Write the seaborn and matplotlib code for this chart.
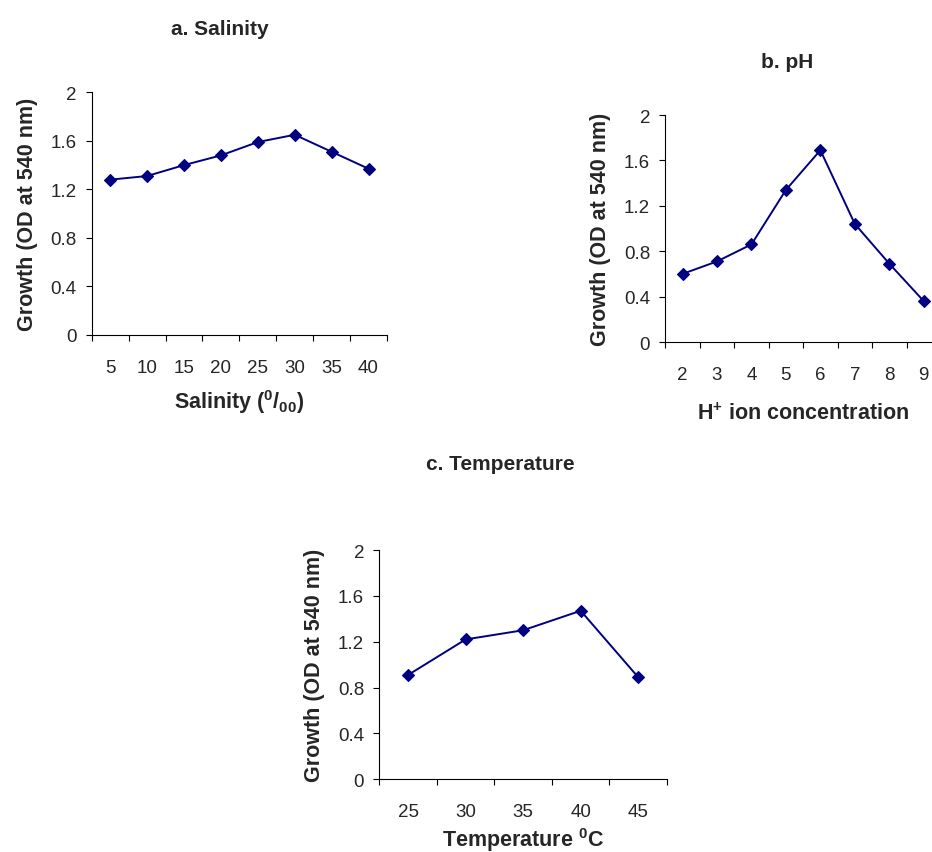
import matplotlib
matplotlib.use("Agg")
import matplotlib.pyplot as plt
import seaborn as sns
from matplotlib.ticker import FixedLocator, NullFormatter

# Growth (OD at 540 nm) under different culture conditions
salinity = [5, 10, 15, 20, 25, 30, 35, 40]
growth_salinity = [1.28, 1.31, 1.40, 1.48, 1.59, 1.65, 1.51, 1.37]

ph_values = [2, 3, 4, 5, 6, 7, 8, 9]
growth_ph = [0.60, 0.71, 0.86, 1.34, 1.69, 1.04, 0.69, 0.36]

temperature = [25, 30, 35, 40, 45]
growth_temperature = [0.91, 1.22, 1.30, 1.47, 0.89]

y_ticks = [0, 0.4, 0.8, 1.2, 1.6, 2]
y_tick_labels = ["0", "0.4", "0.8", "1.2", "1.6", "2"]

NAVY = "#000080"

sns.set_style("ticks")
plt.rcParams["font.family"] = ["Liberation Sans", "DejaVu Sans"]
plt.rcParams["mathtext.default"] = "regular"

W, H = 932, 853
fig = plt.figure(figsize=(W / 100, H / 100), dpi=100)


def add_axes_px(left, top, right, bottom):
    return fig.add_axes([left / W, 1 - bottom / H, (right - left) / W, (bottom - top) / H])


def draw_panel(ax, x, y, step, xlabel, xlabelpad):
    sns.lineplot(x=x, y=y, ax=ax, color=NAVY, linewidth=1.4, marker="D",
                 markersize=6, markeredgecolor=NAVY, markeredgewidth=0.8,
                 clip_on=False)
    lo = x[0] - step / 2
    hi = x[-1] + step / 2
    ax.set_xlim(lo, hi)
    ax.set_ylim(0, 2)
    ax.set_yticks(y_ticks, y_tick_labels)
    # category boundaries carry the tick marks, centres carry the labels
    n = len(x)
    ax.xaxis.set_major_locator(FixedLocator([lo + i * step for i in range(n + 1)]))
    ax.xaxis.set_major_formatter(NullFormatter())
    ax.set_xticks(x, [str(v) for v in x], minor=True)
    ax.tick_params(axis="x", which="minor", length=0, pad=17, labelsize=13.5)
    ax.tick_params(axis="x", which="major", length=4, width=0.8, color="black")
    ax.tick_params(axis="y", length=4, width=0.8, pad=7, labelsize=13.5, color="black")
    for side in ("left", "bottom"):
        ax.spines[side].set_color("black")
        ax.spines[side].set_linewidth(0.8)
    sns.despine(ax=ax)
    ax.set_xlabel(xlabel, fontsize=15.5, fontweight="bold", labelpad=xlabelpad)
    ax.set_ylabel("Growth (OD at 540 nm)", fontsize=15.5, fontweight="bold", labelpad=9)


ax_a = add_axes_px(91.7, 93.3, 387, 336)
draw_panel(ax_a, salinity, growth_salinity, 5, r"Salinity ($^{0}$/$_{00}$)", 8.5)

ax_b = add_axes_px(665.3, 116, 941, 343)
draw_panel(ax_b, ph_values, growth_ph, 1, r"H$^{+}$ ion concentration", 14)

ax_c = add_axes_px(379.3, 551, 667, 780.3)
draw_panel(ax_c, temperature, growth_temperature, 5, r"Temperature $^{0}$C", 4)

fig.text(220 / W, 1 - 35 / H, "a. Salinity", ha="center", va="baseline",
         fontsize=15, fontweight="bold")
fig.text(787 / W, 1 - 68 / H, "b. pH", ha="center", va="baseline",
         fontsize=15, fontweight="bold")
fig.text(500 / W, 1 - 470 / H, "c. Temperature", ha="center", va="baseline",
         fontsize=15, fontweight="bold")

fig.savefig("out.png", dpi=100, facecolor="white")
